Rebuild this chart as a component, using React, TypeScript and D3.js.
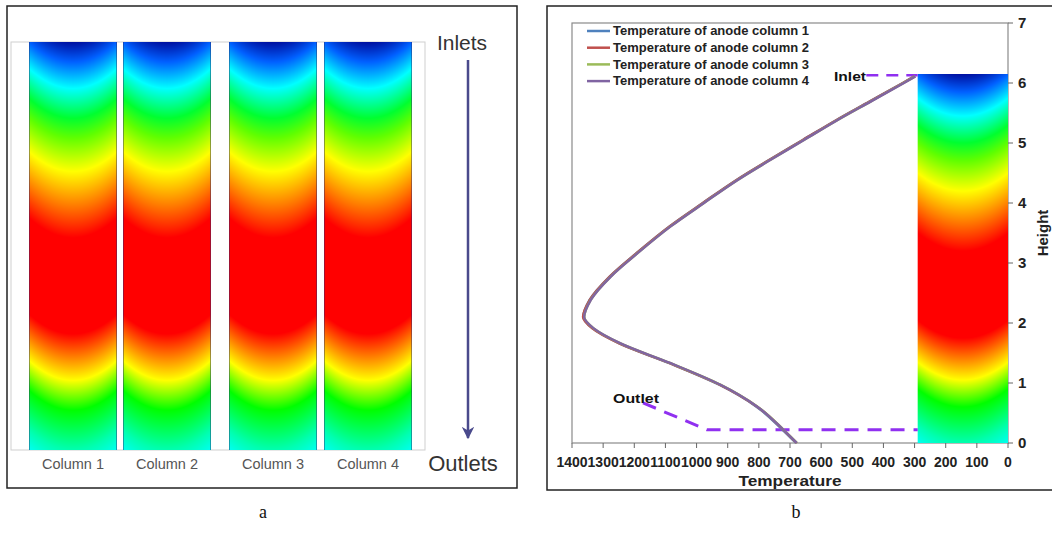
import React, { useMemo } from "react";
import * as d3 from "d3";

// ---------- data ----------
const columnNames = ["Column 1", "Column 2", "Column 3", "Column 4"];
const seriesNames = [
  "Temperature of anode column 1",
  "Temperature of anode column 2",
  "Temperature of anode column 3",
  "Temperature of anode column 4",
];
const seriesColors = ["#4F81BD", "#C0504D", "#9BBB59", "#8064A2"];

const heights = [0, 0.22, 0.61, 0.97, 1.33, 1.66, 1.91, 2.1, 2.38, 2.77, 3.16, 3.61, 4.0, 4.38, 4.72, 5.05, 5.38, 5.69, 6.0, 6.11];
const tempCol1 = [679, 722, 807, 925, 1085, 1246, 1332, 1362, 1342, 1278, 1192, 1085, 978, 871, 764, 657, 550, 443, 336, 299];
const tempCol2 = [678, 721, 806, 924, 1086, 1248, 1334, 1364, 1343, 1279, 1193, 1086, 979, 872, 765, 658, 551, 444, 337, 300];
const tempCol3 = [678, 721, 806, 923, 1084, 1245, 1331, 1361, 1341, 1277, 1191, 1084, 977, 870, 763, 656, 549, 442, 336, 299];
const tempCol4 = [680, 723, 808, 925, 1085, 1246, 1332, 1363, 1342, 1278, 1192, 1085, 978, 871, 764, 657, 550, 443, 336, 299];
const allTemps = [tempCol1, tempCol2, tempCol3, tempCol4];

const xTicks = [1400, 1300, 1200, 1100, 1000, 900, 800, 700, 600, 500, 400, 300, 200, 100, 0];
const yTicks = [0, 1, 2, 3, 4, 5, 6, 7];

// colour field (height at column centre -> colour)
const fieldStopsH = [-0.35, 0, 0.6, 1.05, 1.4, 1.75, 3.2, 3.7, 4.2, 4.7, 5.0, 5.45, 5.85, 6.15];
const fieldStopsColor = ["#00ffff", "#00ffb0", "#00ff00", "#ffff00", "#ff8000", "#ff0000", "#ff0000", "#ff8000", "#ffff00", "#60ff00", "#00ff30", "#00ffff", "#0060ff", "#0010a0"];
const fieldTop = 6.15;
const fieldBend = 0.3;
const barTempRange = [290, 0];

// outlet / inlet markers (temperature, height)
const outletT = [1172, 967, 290];
const outletH = [0.67, 0.22, 0.22];
const inletT = [455, 290];
const inletH = [6.13, 6.13];

const colorScale = d3
  .scaleLinear<string>()
  .domain(fieldStopsH)
  .range(fieldStopsColor)
  .interpolate(d3.interpolateRgb)
  .clamp(true);

function fieldImage(w: number, h: number): string {
  if (typeof document === "undefined") return "";
  const c = document.createElement("canvas");
  c.width = w;
  c.height = h;
  const ctx = c.getContext("2d");
  if (!ctx) return "";
  const img = ctx.createImageData(w, h);
  for (let r = 0; r < h; r++) {
    const hh = fieldTop * (1 - (r + 0.5) / h);
    for (let q = 0; q < w; q++) {
      const u = (q + 0.5) / w;
      const he = hh - fieldBend * (2 * u - 1) * (2 * u - 1);
      const col = d3.rgb(colorScale(he));
      const i = (r * w + q) * 4;
      img.data[i] = col.r;
      img.data[i + 1] = col.g;
      img.data[i + 2] = col.b;
      img.data[i + 3] = 255;
    }
  }
  ctx.putImageData(img, 0, 0);
  return c.toDataURL();
}

const SANS = "Arial, 'Liberation Sans', Helvetica, sans-serif";

export default function App() {
  const colImg = useMemo(() => fieldImage(88, 408), []);
  const barImg = useMemo(() => fieldImage(91, 369), []);

  // right panel scales
  const x = d3.scaleLinear().domain([1400, 0]).range([572, 1008]);
  const y = d3.scaleLinear().domain([0, 7]).range([443, 23]);
  const line = d3
    .line<[number, number]>()
    .x((d) => x(d[0]))
    .y((d) => y(d[1]))
    .curve(d3.curveMonotoneY);

  // left panel scale
  const yL = d3.scaleLinear().domain([0, fieldTop]).range([450, 42]);
  const colX = [29, 123, 229, 324];
  const colW = 88;

  const outletPts: [number, number][] = outletT.map((t, i) => [t, outletH[i]]);
  const inletPts: [number, number][] = inletT.map((t, i) => [t, inletH[i]]);
  const straight = d3.line<[number, number]>().x((d) => x(d[0])).y((d) => y(d[1]));

  return (
    <svg
      width={1052}
      height={550}
      style={{ position: "absolute", left: 0, top: 0, background: "#fff" }}
    >
      <defs>
        <marker id="arr" viewBox="0 0 10 10" refX="9" refY="5" markerWidth="5" markerHeight="5" orient="auto">
          <path d="M0,0 L10,5 L0,10 L3,5 Z" fill="#4a4a8c" />
        </marker>
      </defs>

      {/* ---------------- panel a ---------------- */}
      <rect x={7} y={6} width={510} height={482} fill="#fff" stroke="#222" strokeWidth={1.5} />
      <rect x={11} y={42} width={414} height={408} fill="#fff" stroke="#cfcfcf" strokeWidth={1} />
      {columnNames.map((name, i) => (
        <g key={name}>
          <image
            href={colImg}
            x={colX[i]}
            y={yL(fieldTop)}
            width={colW}
            height={yL(0) - yL(fieldTop)}
            preserveAspectRatio="none"
          />
          <line x1={colX[i] + 0.5} x2={colX[i] + 0.5} y1={yL(fieldTop)} y2={yL(0)} stroke="rgba(40,40,110,0.45)" strokeWidth={1} />
          <line x1={colX[i] + colW - 0.5} x2={colX[i] + colW - 0.5} y1={yL(fieldTop)} y2={yL(0)} stroke="rgba(40,40,110,0.45)" strokeWidth={1} />
          <text
            x={colX[i] + colW / 2}
            y={469}
            textAnchor="middle"
            fontFamily={SANS}
            fontSize={14.5}
            fill="#555"
          >
            {name}
          </text>
        </g>
      ))}
      <text x={462} y={50} textAnchor="middle" fontFamily={SANS} fontSize={21} fill="#333">
        Inlets
      </text>
      <line x1={468} x2={468} y1={60} y2={438} stroke="#4a4a8c" strokeWidth={2.5} markerEnd="url(#arr)" />
      <text x={463} y={471} textAnchor="middle" fontFamily={SANS} fontSize={22} fill="#333">
        Outlets
      </text>

      {/* ---------------- panel b ---------------- */}
      <rect x={547} y={6} width={520} height={484} fill="#fff" stroke="#222" strokeWidth={1.5} />
      <rect x={572} y={23} width={436} height={420} fill="none" stroke="#8a8a8a" strokeWidth={1.2} />

      {/* colour bar */}
      <image
        href={barImg}
        x={x(barTempRange[0])}
        y={y(fieldTop)}
        width={x(barTempRange[1]) - x(barTempRange[0])}
        height={y(0) - y(fieldTop)}
        preserveAspectRatio="none"
      />

      {/* dashed markers */}
      <path d={straight(outletPts) || ""} fill="none" stroke="#9030f0" strokeWidth={3} strokeDasharray="14 9" />
      <path d={straight(inletPts) || ""} fill="none" stroke="#9030f0" strokeWidth={2.5} strokeDasharray="12 8" />

      {/* curves */}
      {allTemps.map((temps, s) => (
        <path
          key={s}
          d={line(temps.map((t, i) => [t, heights[i]] as [number, number])) || ""}
          fill="none"
          stroke={seriesColors[s]}
          strokeWidth={2.4}
          transform={`translate(${(s - 1.5) * 0.4},0)`}
        />
      ))}

      {/* axes */}
      {xTicks.map((t) => (
        <g key={"x" + t}>
          <line x1={x(t)} x2={x(t)} y1={443} y2={448} stroke="#666" strokeWidth={1} />
          <text x={x(t)} y={467} textAnchor="middle" fontFamily={SANS} fontWeight="bold" fontSize={14} fill="#222">
            {t}
          </text>
        </g>
      ))}
      {yTicks.map((t) => (
        <g key={"y" + t}>
          <line x1={1008} x2={1013} y1={y(t)} y2={y(t)} stroke="#666" strokeWidth={1} />
          <text x={1018} y={y(t)} dy="0.36em" textAnchor="start" fontFamily={SANS} fontWeight="bold" fontSize={15} fill="#222">
            {t}
          </text>
        </g>
      ))}
      <text x={790} y={486} textAnchor="middle" fontFamily={SANS} fontWeight="bold" fontSize={15} textLength={103} lengthAdjust="spacingAndGlyphs" fill="#222">
        Temperature
      </text>
      <text
        transform="translate(1048,233) rotate(-90)"
        textAnchor="middle"
        fontFamily={SANS}
        fontWeight="bold"
        fontSize={15}
        fill="#222"
      >
        Height
      </text>

      {/* legend */}
      {seriesNames.map((n, i) => (
        <g key={n}>
          <line x1={587} x2={610} y1={31 + i * 16.7} y2={31 + i * 16.7} stroke={seriesColors[i]} strokeWidth={2.5} />
          <text
            x={613}
            y={31 + i * 16.7}
            dy="0.35em"
            fontFamily={SANS}
            fontWeight="bold"
            fontSize={12}
            textLength={196}
            lengthAdjust="spacingAndGlyphs"
            fill="#222"
          >
            {n}
          </text>
        </g>
      ))}

      {/* annotations */}
      <text x={866} y={81} textAnchor="end" fontFamily={SANS} fontWeight="bold" fontSize={13} textLength={32} lengthAdjust="spacingAndGlyphs" fill="#111">
        Inlet
      </text>
      <text x={613} y={403} fontFamily={SANS} fontWeight="bold" fontSize={13} textLength={46} lengthAdjust="spacingAndGlyphs" fill="#111">
        Outlet
      </text>

      {/* captions */}
      <text x={263} y={518} textAnchor="middle" fontFamily="'Liberation Serif', 'Times New Roman', serif" fontSize={18} fill="#111">
        a
      </text>
      <text x={796} y={518} textAnchor="middle" fontFamily="'Liberation Serif', 'Times New Roman', serif" fontSize={18} fill="#111">
        b
      </text>
    </svg>
  );
}
